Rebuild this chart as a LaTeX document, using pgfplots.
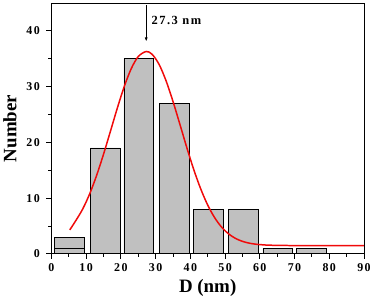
\documentclass[border=0pt]{standalone}
\usepackage{pgfplots}
\pgfplotsset{compat=1.18}
\usetikzlibrary{arrows.meta}
\usepackage{fontspec}
\setmainfont{Liberation Serif}
\newfontfamily\tickfont[LetterSpace=12]{Liberation Serif}
\definecolor{bargray}{RGB}{192,192,192}
\definecolor{fitred}{RGB}{240,10,10}

\begin{document}
\begin{tikzpicture}
\begin{axis}[
  width=314pt, height=252pt, scale only axis,
  xmin=0, xmax=90, ymin=0, ymax=45,
  axis line style={line width=0.8pt},
  tick pos=left,
  xtick={0,10,...,90},
  ytick={0,10,20,30,40},
  minor xtick={5,15,...,85},
  minor ytick={5,15,25,35},
  tick align=outside,
  major tick length=5pt, minor tick length=3pt,
  tick style={line width=0.8pt, black},
  tick label style={font=\tickfont\bfseries\fontsize{12}{12}\selectfont},
  yticklabel style={xshift=-3pt},
  xticklabel style={yshift=-1pt},
  /pgf/number format/assume math mode=true,
  xlabel={\bfseries D (nm)},
  ylabel={\bfseries Number},
  label style={font=\bfseries\fontsize{19}{19}\selectfont},
  xlabel style={yshift=-1.5pt},
  ylabel style={yshift=3pt},
  clip=false,
]
% histogram counts
\addplot[ybar, bar width=8.6, bar shift=0pt, fill=bargray, draw=black, line width=0.8pt]
  coordinates {(5.3,3) (15.5,19) (25.2,35) (35.3,27) (45.3,8) (55.2,8) (65.2,1) (74.9,1)};
\addplot[ybar, bar width=8.6, bar shift=0pt, fill=bargray, draw=black, line width=0.8pt]
  coordinates {(5.3,1)};
% Gaussian fit
\addplot[fitred, line width=1.5pt, smooth] coordinates {
  (5.3,4.3) (7,5.93) (9,8.02) (11,10.72) (13,14.02) (15,17.84) (17,21.98)
  (19,26.17) (21,30.05) (23,33.23) (25,35.39) (27.3,36.30) (29,35.80)
  (31,34.00) (33,31.08) (35,27.37) (37,23.25) (39,19.05) (41,15.11)
  (43,11.65) (45,8.77) (47,6.50) (49,4.81) (51,3.60) (53,2.78) (55,2.25)
  (57,1.92) (59,1.73) (62,1.58) (66,1.52) (70,1.50) (80,1.50) (90,1.50)};
% peak marker
\draw[-{Latex[length=4pt,width=3pt]}, line width=0.7pt] (axis cs:27.3,44.6) -- (axis cs:27.3,38.1);
\node[anchor=west, font=\tickfont\bfseries\fontsize{12.5}{12.5}\selectfont, inner sep=0pt] at (axis cs:28.8,41.9) {27.3 nm};
% a little room above and to the right of the frame
\path ([yshift=3pt]rel axis cs:1,1) coordinate (topgap);
\path ([xshift=8pt]rel axis cs:1,0) coordinate (rightgap);
\end{axis}
\end{tikzpicture}
\end{document}
